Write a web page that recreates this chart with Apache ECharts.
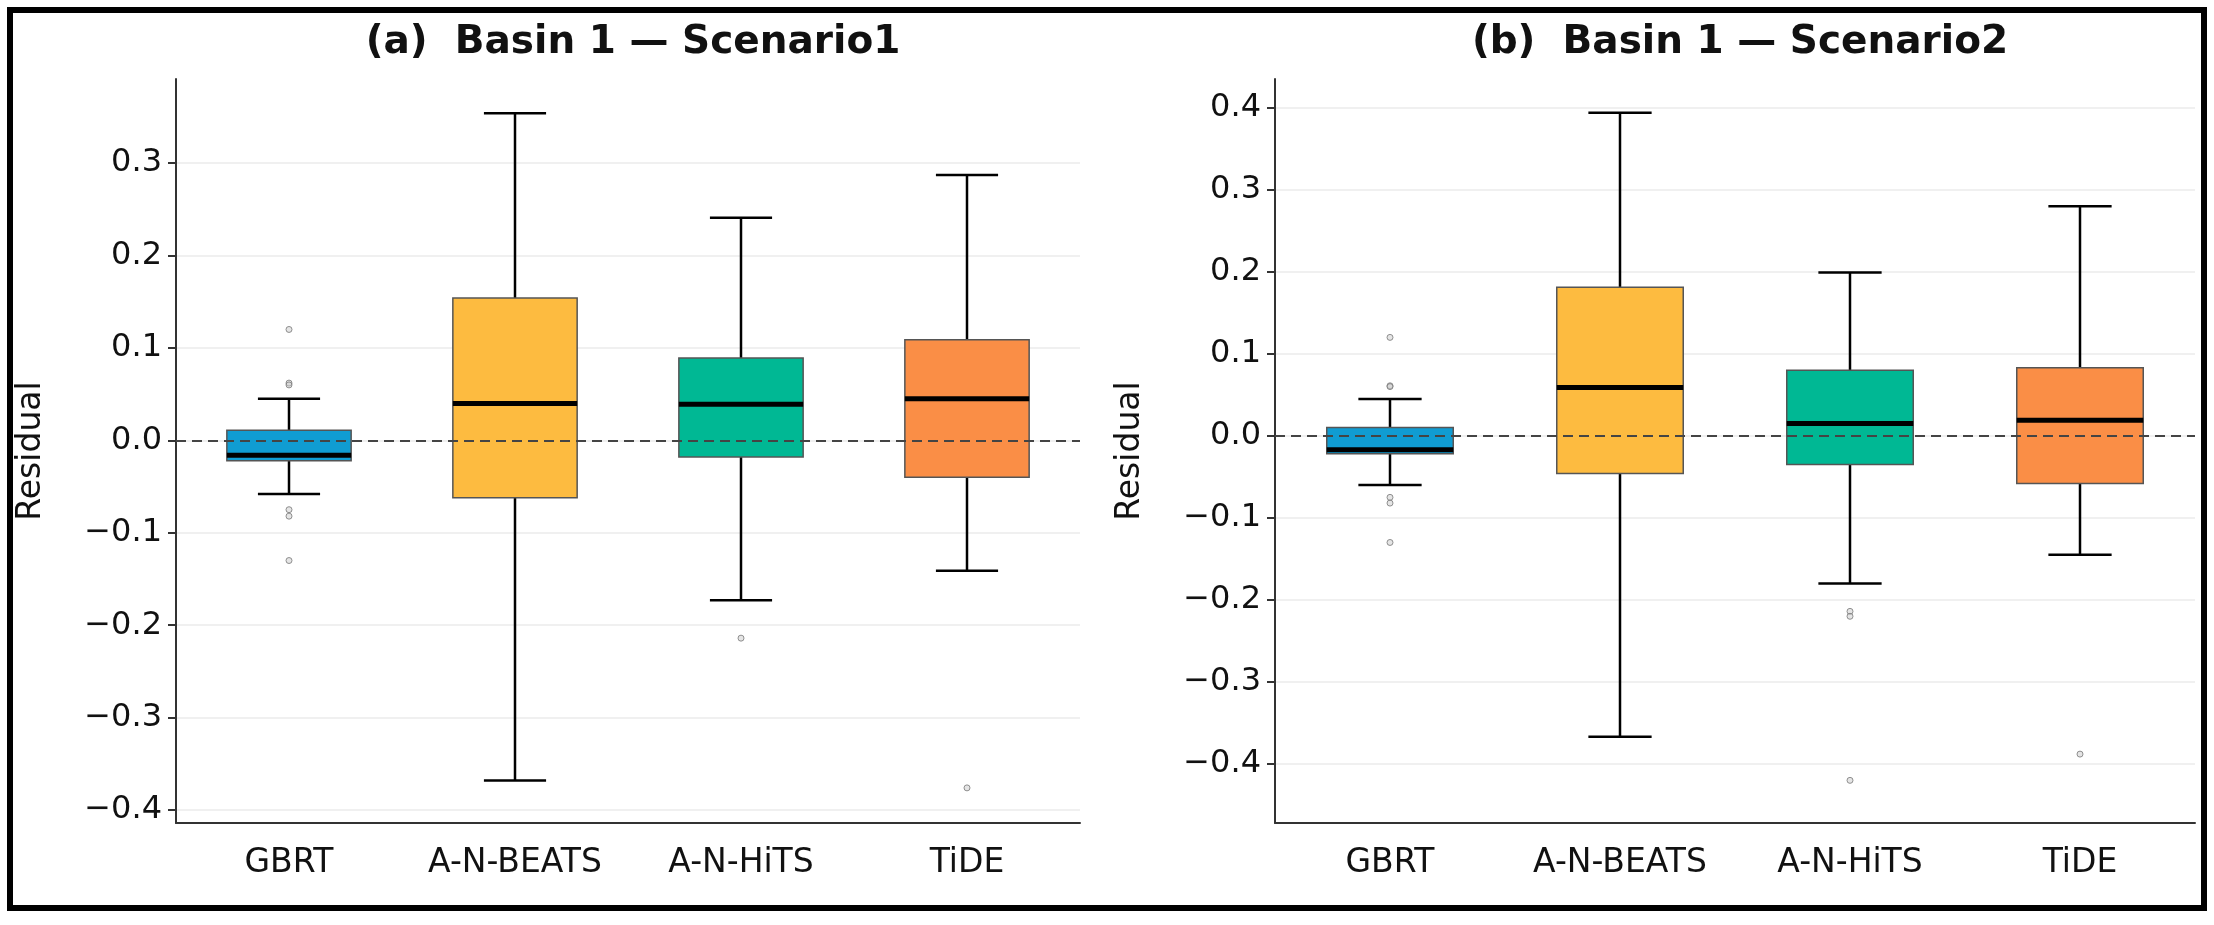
<!DOCTYPE html>
<html>
<head>
<meta charset="utf-8">
<script src="https://cdn.jsdelivr.net/npm/echarts@6/dist/echarts.min.js"></script>
<style>html,body{margin:0;padding:0;background:#fff}#chart{width:2214px;height:925px}</style>
</head>
<body>
<div id="chart"></div>
<script>
// categories and colours
const categories = ["GBRT", "A-N-BEATS", "A-N-HiTS", "TiDE"];
const boxColors = ["#109cd2", "#fdbb40", "#00b894", "#fa8e46"];

// [min, q1, median, q3, max] per model
const scenario1Boxes = [
  [-0.058, -0.022, -0.016, 0.011, 0.045],
  [-0.368, -0.062, 0.040, 0.154, 0.354],
  [-0.173, -0.018, 0.039, 0.089, 0.241],
  [-0.141, -0.040, 0.045, 0.109, 0.287]
];
const scenario2Boxes = [
  [-0.060, -0.022, -0.017, 0.010, 0.045],
  [-0.367, -0.046, 0.059, 0.181, 0.394],
  [-0.180, -0.035, 0.015, 0.080, 0.199],
  [-0.145, -0.058, 0.019, 0.083, 0.280]
];
// outliers: [category index, value]
const scenario1Outliers = [[0, 0.120], [0, 0.062], [0, 0.060], [0, -0.075], [0, -0.082], [0, -0.130], [2, -0.214], [3, -0.376]];
const scenario2Outliers = [[0, 0.120], [0, 0.061], [0, 0.060], [0, -0.075], [0, -0.082], [0, -0.130], [2, -0.214], [2, -0.220], [2, -0.420], [3, -0.388]];

const tickValues = [-0.4, -0.3, -0.2, -0.1, 0, 0.1, 0.2, 0.3, 0.4];
const leftRange = { min: -0.414, max: 0.391 };
const rightRange = { min: -0.472, max: 0.435 };

const font = "DejaVu Sans";
const chart = echarts.init(document.getElementById("chart"));

function fmt(v) {
  return (v < -1e-9 ? "\u2212" : "") + Math.abs(v).toFixed(1);
}

function renderBox(params, api) {
  const i = api.value(0);
  const bw = api.size([1, 0])[0] * 0.55;
  const [x, yMin] = api.coord([i, api.value(1)]);
  const yQ1 = api.coord([i, api.value(2)])[1];
  const yMed = api.coord([i, api.value(3)])[1];
  const yQ3 = api.coord([i, api.value(4)])[1];
  const yMax = api.coord([i, api.value(5)])[1];
  const line = { stroke: "#000", lineWidth: 2.5 };
  const cap = bw / 4;
  return {
    type: "group",
    children: [
      { type: "line", shape: { x1: x, y1: yMin, x2: x, y2: yQ1 }, style: line },
      { type: "line", shape: { x1: x, y1: yQ3, x2: x, y2: yMax }, style: line },
      { type: "line", shape: { x1: x - cap, y1: yMin, x2: x + cap, y2: yMin }, style: line },
      { type: "line", shape: { x1: x - cap, y1: yMax, x2: x + cap, y2: yMax }, style: line },
      { type: "rect", shape: { x: x - bw / 2, y: yQ3, width: bw, height: yQ1 - yQ3 },
        style: { fill: boxColors[i], stroke: "#555", lineWidth: 1.5 } },
      { type: "line", shape: { x1: x - bw / 2, y1: yMed, x2: x + bw / 2, y2: yMed },
        style: { stroke: "#000", lineWidth: 5 } }
    ]
  };
}

function boxData(boxes) {
  return boxes.map((b, i) => [i, ...b]);
}

function xAxisFor(idx) {
  return {
    type: "category", gridIndex: idx, data: categories,
    axisLine: { onZero: false, lineStyle: { color: "#333", width: 2 } },
    axisTick: { alignWithLabel: true, length: 8, lineStyle: { color: "#333", width: 2 } },
    axisLabel: { fontFamily: font, fontSize: 33, color: "#111", margin: 24 }
  };
}
function yAxisFor(idx, range) {
  const ticks = tickValues.filter(v => v >= range.min && v <= range.max);
  return {
    type: "value", gridIndex: idx, min: range.min, max: range.max,
    name: "Residual", nameLocation: "middle", nameGap: 128,
    nameTextStyle: { fontFamily: font, fontSize: 33, color: "#111" },
    axisLine: { show: true, lineStyle: { color: "#333", width: 2 } },
    axisTick: { show: true, length: 8, lineStyle: { color: "#333", width: 2 }, customValues: ticks },
    axisLabel: { fontFamily: font, fontSize: 32, color: "#111", margin: 14, formatter: fmt, customValues: ticks },
    splitLine: { show: true, lineStyle: { color: "#ebebeb", width: 1.5 } }
  };
}
function zeroLine() {
  return { silent: true, symbol: "none", label: { show: false },
    lineStyle: { color: "#444", type: [10, 6], width: 2 }, data: [{ yAxis: 0 }] };
}

const option = {
  animation: false,
  title: [
    { text: "(a)  Basin 1 \u2014 Scenario1", left: 628, top: 18, textAlign: "center",
      textStyle: { fontFamily: font, fontWeight: "bold", fontSize: 39, color: "#111" } },
    { text: "(b)  Basin 1 \u2014 Scenario2", left: 1735, top: 18, textAlign: "center",
      textStyle: { fontFamily: font, fontWeight: "bold", fontSize: 39, color: "#111" } }
  ],
  graphic: [{ type: "rect", shape: { x: 10, y: 10, width: 2194, height: 898 },
    style: { fill: "none", stroke: "#000", lineWidth: 6 }, z: 100 }],
  grid: [
    { left: 176, top: 79, width: 904, height: 744 },
    { left: 1275, top: 79, width: 920, height: 744 }
  ],
  xAxis: [xAxisFor(0), xAxisFor(1)],
  yAxis: [yAxisFor(0, leftRange), yAxisFor(1, rightRange)],
  series: [
    { type: "custom", xAxisIndex: 0, yAxisIndex: 0, renderItem: renderBox, data: boxData(scenario1Boxes), z: 2 },
    { type: "custom", xAxisIndex: 1, yAxisIndex: 1, renderItem: renderBox, data: boxData(scenario2Boxes), z: 2 },
    { type: "scatter", xAxisIndex: 0, yAxisIndex: 0, data: scenario1Outliers, symbolSize: 6,
      itemStyle: { color: "rgba(200,200,200,0.6)", borderColor: "#777", borderWidth: 1 }, markLine: zeroLine(), z: 3 },
    { type: "scatter", xAxisIndex: 1, yAxisIndex: 1, data: scenario2Outliers, symbolSize: 6,
      itemStyle: { color: "rgba(200,200,200,0.6)", borderColor: "#777", borderWidth: 1 }, markLine: zeroLine(), z: 3 }
  ]
};
chart.setOption(option);
</script>
</body>
</html>
